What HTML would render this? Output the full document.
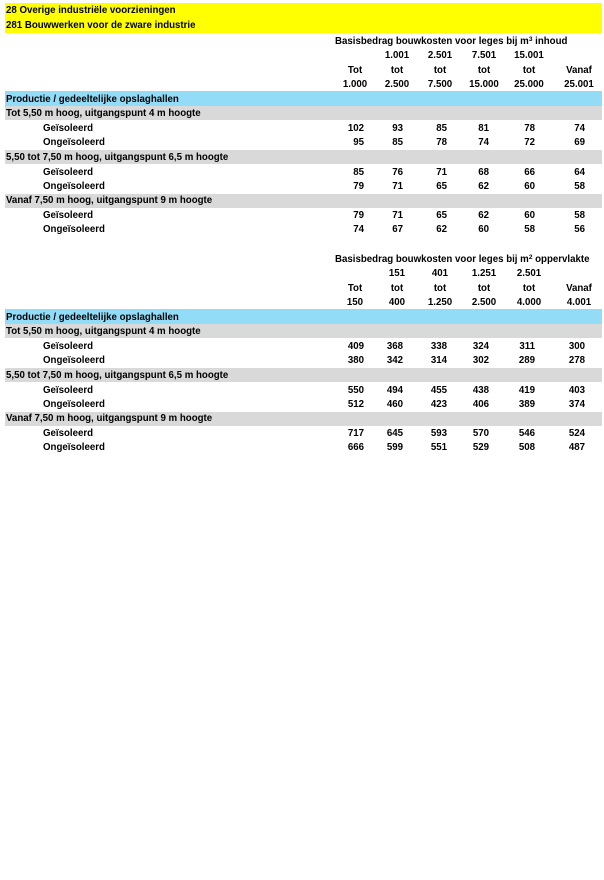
<!DOCTYPE html>
<html><head><meta charset="utf-8"><style>
body{margin:0;width:604px;height:880px;background:#fff;position:relative;font-family:"Liberation Sans",Arial,sans-serif;font-weight:bold;font-size:9.7px;color:#000;overflow:hidden}
.b{position:absolute;left:5px;right:2px}
.t{position:absolute;height:14px;line-height:14px;white-space:nowrap;margin-top:1px}
.c{position:absolute;height:14px;line-height:14px;width:60px;text-align:center;white-space:nowrap;margin-top:1px}
.n{position:absolute;height:14px;line-height:14px;width:40px;text-align:right;margin-top:1px}
sup{font-size:6.5px;vertical-align:3px;line-height:0}
</style></head><body>
<div class="b" style="top:3px;height:30px;background:#ffff00"></div>
<div class="b" style="top:91px;height:15px;background:#92dcf7"></div>
<div class="b" style="top:106px;height:14px;background:#d9d9d9"></div>
<div class="b" style="top:150px;height:14px;background:#d9d9d9"></div>
<div class="b" style="top:194px;height:14px;background:#d9d9d9"></div>
<div class="b" style="top:309px;height:15px;background:#92dcf7"></div>
<div class="b" style="top:324px;height:14px;background:#d9d9d9"></div>
<div class="b" style="top:368px;height:14px;background:#d9d9d9"></div>
<div class="b" style="top:412px;height:14px;background:#d9d9d9"></div>

<div class="t" style="left:6px;top:3px">28 Overige industriële voorzieningen</div>
<div class="t" style="left:6px;top:18px">281 Bouwwerken voor de zware industrie</div>
<div class="t" style="left:335px;top:34px">Basisbedrag bouwkosten voor leges bij m<sup>3</sup> inhoud</div>
<div class="c" style="left:367px;top:48px">1.001</div><div class="c" style="left:410px;top:48px">2.501</div><div class="c" style="left:454px;top:48px">7.501</div><div class="c" style="left:499px;top:48px">15.001</div>
<div class="c" style="left:325px;top:63px">Tot</div><div class="c" style="left:367px;top:63px">tot</div><div class="c" style="left:410px;top:63px">tot</div><div class="c" style="left:454px;top:63px">tot</div><div class="c" style="left:499px;top:63px">tot</div><div class="c" style="left:549px;top:63px">Vanaf</div>
<div class="c" style="left:325px;top:77px">1.000</div><div class="c" style="left:367px;top:77px">2.500</div><div class="c" style="left:410px;top:77px">7.500</div><div class="c" style="left:454px;top:77px">15.000</div><div class="c" style="left:499px;top:77px">25.000</div><div class="c" style="left:549px;top:77px">25.001</div>
<div class="t" style="left:6px;top:92px">Productie / gedeeltelijke opslaghallen</div>
<div class="t" style="left:6px;top:106px">Tot 5,50 m hoog, uitgangspunt 4 m hoogte</div>
<div class="t" style="left:43px;top:121px">Geïsoleerd</div>
<div class="n" style="left:324px;top:121px">102</div><div class="n" style="left:363px;top:121px">93</div><div class="n" style="left:407px;top:121px">85</div><div class="n" style="left:449px;top:121px">81</div><div class="n" style="left:495px;top:121px">78</div><div class="n" style="left:545px;top:121px">74</div>
<div class="t" style="left:43px;top:135px">Ongeïsoleerd</div>
<div class="n" style="left:324px;top:135px">95</div><div class="n" style="left:363px;top:135px">85</div><div class="n" style="left:407px;top:135px">78</div><div class="n" style="left:449px;top:135px">74</div><div class="n" style="left:495px;top:135px">72</div><div class="n" style="left:545px;top:135px">69</div>
<div class="t" style="left:6px;top:150px">5,50 tot 7,50 m hoog, uitgangspunt 6,5 m hoogte</div>
<div class="t" style="left:43px;top:165px">Geïsoleerd</div>
<div class="n" style="left:324px;top:165px">85</div><div class="n" style="left:363px;top:165px">76</div><div class="n" style="left:407px;top:165px">71</div><div class="n" style="left:449px;top:165px">68</div><div class="n" style="left:495px;top:165px">66</div><div class="n" style="left:545px;top:165px">64</div>
<div class="t" style="left:43px;top:179px">Ongeïsoleerd</div>
<div class="n" style="left:324px;top:179px">79</div><div class="n" style="left:363px;top:179px">71</div><div class="n" style="left:407px;top:179px">65</div><div class="n" style="left:449px;top:179px">62</div><div class="n" style="left:495px;top:179px">60</div><div class="n" style="left:545px;top:179px">58</div>
<div class="t" style="left:6px;top:193px">Vanaf 7,50 m hoog, uitgangspunt 9 m hoogte</div>
<div class="t" style="left:43px;top:208px">Geïsoleerd</div>
<div class="n" style="left:324px;top:208px">79</div><div class="n" style="left:363px;top:208px">71</div><div class="n" style="left:407px;top:208px">65</div><div class="n" style="left:449px;top:208px">62</div><div class="n" style="left:495px;top:208px">60</div><div class="n" style="left:545px;top:208px">58</div>
<div class="t" style="left:43px;top:222px">Ongeïsoleerd</div>
<div class="n" style="left:324px;top:222px">74</div><div class="n" style="left:363px;top:222px">67</div><div class="n" style="left:407px;top:222px">62</div><div class="n" style="left:449px;top:222px">60</div><div class="n" style="left:495px;top:222px">58</div><div class="n" style="left:545px;top:222px">56</div>

<div class="t" style="left:335px;top:252px">Basisbedrag bouwkosten voor leges bij m<sup>2</sup> oppervlakte</div>
<div class="c" style="left:367px;top:266px">151</div><div class="c" style="left:410px;top:266px">401</div><div class="c" style="left:454px;top:266px">1.251</div><div class="c" style="left:499px;top:266px">2.501</div>
<div class="c" style="left:325px;top:281px">Tot</div><div class="c" style="left:367px;top:281px">tot</div><div class="c" style="left:410px;top:281px">tot</div><div class="c" style="left:454px;top:281px">tot</div><div class="c" style="left:499px;top:281px">tot</div><div class="c" style="left:549px;top:281px">Vanaf</div>
<div class="c" style="left:325px;top:295px">150</div><div class="c" style="left:367px;top:295px">400</div><div class="c" style="left:410px;top:295px">1.250</div><div class="c" style="left:454px;top:295px">2.500</div><div class="c" style="left:499px;top:295px">4.000</div><div class="c" style="left:549px;top:295px">4.001</div>
<div class="t" style="left:6px;top:310px">Productie / gedeeltelijke opslaghallen</div>
<div class="t" style="left:6px;top:324px">Tot 5,50 m hoog, uitgangspunt 4 m hoogte</div>
<div class="t" style="left:43px;top:339px">Geïsoleerd</div>
<div class="n" style="left:324px;top:339px">409</div><div class="n" style="left:363px;top:339px">368</div><div class="n" style="left:407px;top:339px">338</div><div class="n" style="left:449px;top:339px">324</div><div class="n" style="left:495px;top:339px">311</div><div class="n" style="left:545px;top:339px">300</div>
<div class="t" style="left:43px;top:353px">Ongeïsoleerd</div>
<div class="n" style="left:324px;top:353px">380</div><div class="n" style="left:363px;top:353px">342</div><div class="n" style="left:407px;top:353px">314</div><div class="n" style="left:449px;top:353px">302</div><div class="n" style="left:495px;top:353px">289</div><div class="n" style="left:545px;top:353px">278</div>
<div class="t" style="left:6px;top:368px">5,50 tot 7,50 m hoog, uitgangspunt 6,5 m hoogte</div>
<div class="t" style="left:43px;top:383px">Geïsoleerd</div>
<div class="n" style="left:324px;top:383px">550</div><div class="n" style="left:363px;top:383px">494</div><div class="n" style="left:407px;top:383px">455</div><div class="n" style="left:449px;top:383px">438</div><div class="n" style="left:495px;top:383px">419</div><div class="n" style="left:545px;top:383px">403</div>
<div class="t" style="left:43px;top:397px">Ongeïsoleerd</div>
<div class="n" style="left:324px;top:397px">512</div><div class="n" style="left:363px;top:397px">460</div><div class="n" style="left:407px;top:397px">423</div><div class="n" style="left:449px;top:397px">406</div><div class="n" style="left:495px;top:397px">389</div><div class="n" style="left:545px;top:397px">374</div>
<div class="t" style="left:6px;top:411px">Vanaf 7,50 m hoog, uitgangspunt 9 m hoogte</div>
<div class="t" style="left:43px;top:426px">Geïsoleerd</div>
<div class="n" style="left:324px;top:426px">717</div><div class="n" style="left:363px;top:426px">645</div><div class="n" style="left:407px;top:426px">593</div><div class="n" style="left:449px;top:426px">570</div><div class="n" style="left:495px;top:426px">546</div><div class="n" style="left:545px;top:426px">524</div>
<div class="t" style="left:43px;top:440px">Ongeïsoleerd</div>
<div class="n" style="left:324px;top:440px">666</div><div class="n" style="left:363px;top:440px">599</div><div class="n" style="left:407px;top:440px">551</div><div class="n" style="left:449px;top:440px">529</div><div class="n" style="left:495px;top:440px">508</div><div class="n" style="left:545px;top:440px">487</div>
</body></html>
